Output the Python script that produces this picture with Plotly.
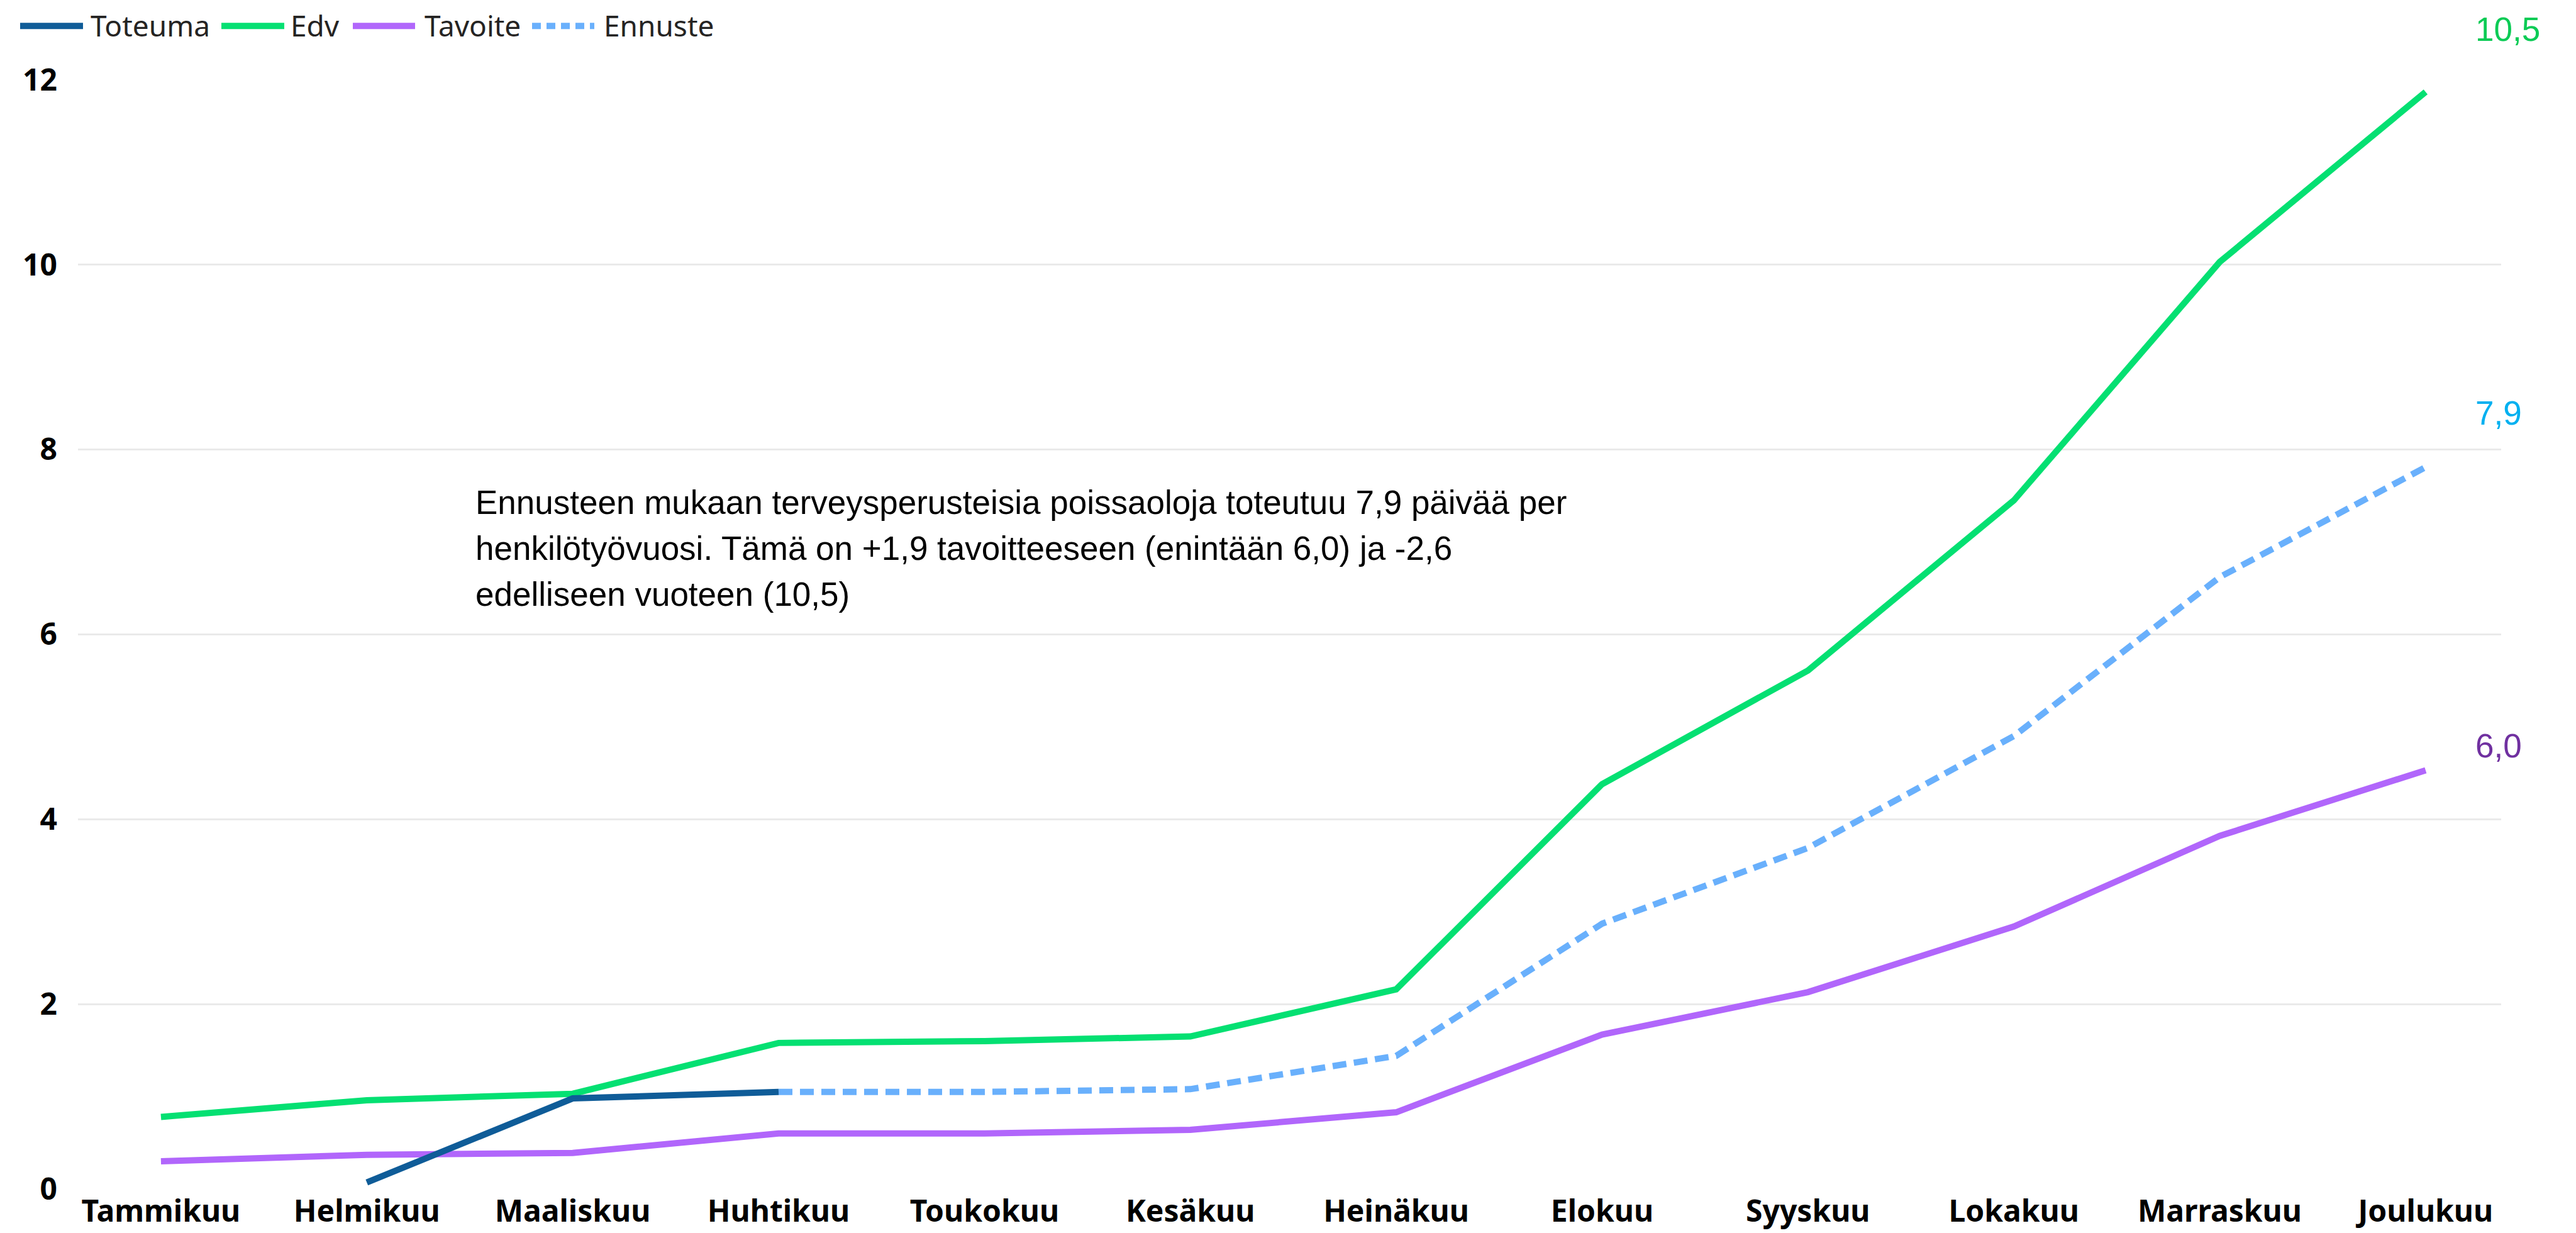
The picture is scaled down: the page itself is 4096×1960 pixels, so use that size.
import plotly.graph_objects as go

# ---------------- data ----------------
months = ["Tammikuu", "Helmikuu", "Maaliskuu", "Huhtikuu", "Toukokuu", "Kesäkuu",
          "Heinäkuu", "Elokuu", "Syyskuu", "Lokakuu", "Marraskuu", "Joulukuu"]
toteuma = [None, 0.07, 0.98, 1.05, None, None, None, None, None, None, None, None]
edv = [0.78, 0.96, 1.03, 1.58, 1.60, 1.65, 2.16, 4.38, 5.61, 7.45, 10.03, 11.87]
tavoite = [0.30, 0.37, 0.39, 0.60, 0.60, 0.64, 0.83, 1.67, 2.13, 2.84, 3.82, 4.53]
ennuste = [None, None, None, 1.05, 1.05, 1.08, 1.44, 2.87, 3.69, 4.90, 6.62, 7.81]
y_ticks = [0, 2, 4, 6, 8, 10, 12]
series_names = ["Toteuma", "Edv", "Tavoite", "Ennuste"]
end_labels = ["10,5", "7,9", "6,0"]
note_lines = [
    "Ennusteen mukaan terveysperusteisia poissaoloja toteutuu 7,9 päivää per",
    "henkilötyövuosi. Tämä on +1,9 tavoitteeseen (enintään 6,0) ja -2,6",
    "edelliseen vuoteen (10,5)",
]

# ---------------- styles ----------------
W, H = 4096, 1960
L, R, T, B = 116, 3969, 119, 1886  # plot area in pixels
colors = {"Toteuma": "#0F5C98", "Edv": "#04E072", "Tavoite": "#B166FB", "Ennuste": "#69B0FC"}
dashes = {"Toteuma": "solid", "Edv": "solid", "Tavoite": "solid", "Ennuste": "22px,12px"}
label_colors = ["#0BCB55", "#00B0F0", "#7030A0"]
LW = 10


def px(x):
    return (x - L) / (R - L)


def py(y):
    return (B - y) / (B - T)


x_idx = list(range(len(months)))
values = {"Toteuma": toteuma, "Edv": edv, "Tavoite": tavoite, "Ennuste": ennuste}

fig = go.Figure()
for name in ["Edv", "Tavoite", "Ennuste", "Toteuma"]:
    fig.add_trace(go.Scatter(
        x=x_idx, y=values[name], mode="lines", name=name,
        line=dict(color=colors[name], width=LW, dash=dashes[name]),
        connectgaps=False, showlegend=False, cliponaxis=False,
    ))

shapes = []
annotations = []

# custom legend (long line swatches like the original)
legend_pos = [(24, 124, 134), (344, 444, 452), (553, 652, 665), (838, 937, 950)]
for name, (s0, s1, tx) in zip(series_names, legend_pos):
    shapes.append(dict(type="line", xref="paper", yref="paper",
                       x0=px(s0), x1=px(s1), y0=py(33), y1=py(33),
                       line=dict(color=colors[name], width=LW,
                                 dash="14px,9px" if name == "Ennuste" else "solid")))
    annotations.append(dict(text=name, xref="paper", yref="paper", x=px(tx), y=py(32),
                            xanchor="left", yanchor="middle", showarrow=False,
                            font=dict(family="Noto Sans", size=46, color="#252423")))

# end labels
for txt, col, ycen in zip(end_labels, label_colors, [38, 650, 1180]):
    annotations.append(dict(text=txt, xref="paper", yref="paper", x=px(3926), y=py(ycen),
                            xanchor="left", yanchor="middle", showarrow=False,
                            font=dict(family="Liberation Sans", size=53, color=col)))

# note text
for i, line in enumerate(note_lines):
    annotations.append(dict(text=line, xref="paper", yref="paper", x=px(746),
                            y=py(792 + i * 73), xanchor="left", yanchor="middle",
                            showarrow=False,
                            font=dict(family="Liberation Sans", size=53, color="#000000")))

fig.update_layout(
    width=W, height=H,
    margin=dict(l=L, r=W - R, t=T, b=H - B, pad=0),
    paper_bgcolor="white", plot_bgcolor="white",
    showlegend=False,
    shapes=shapes, annotations=annotations,
    xaxis=dict(
        tickmode="array", tickvals=x_idx, ticktext=months,
        range=[-0.403, 11.367], showgrid=False, zeroline=False, showline=False,
        tickfont=dict(family="Noto Sans", size=48, color="#000000", weight="bold"),
        ticklabelstandoff=3,
    ),
    yaxis=dict(
        tickmode="array", tickvals=y_ticks, ticktext=[str(v) for v in y_ticks],
        range=[0, 12], showgrid=True, gridcolor="#EAEAEA", gridwidth=3,
        zeroline=False, showline=False,
        tickfont=dict(family="Noto Sans", size=48, color="#000000", weight="bold"),
        ticklabelstandoff=32,
    ),
)

fig.write_html("out.html")
